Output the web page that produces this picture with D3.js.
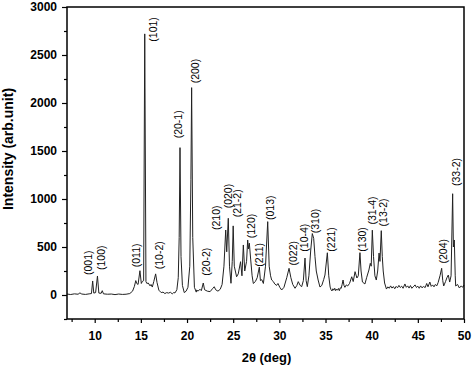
<!DOCTYPE html>
<html>
<head>
<meta charset="utf-8">
<script src="https://cdn.jsdelivr.net/npm/d3@7"></script>
<style>
  html, body { margin: 0; padding: 0; background: #fff; }
  svg { display: block; }
</style>
</head>
<body>
<svg id="chart" width="474" height="370"></svg>
<script>
// ---- data ----
const twoTheta = [
  7.0, 7.4, 7.8, 8.2, 8.4, 8.6, 9.0, 9.4, 9.65, 9.78, 9.9, 10.1, 10.3, 10.45, 10.7, 10.82, 10.95,
  11.4, 11.8, 12.2, 12.6, 13.0, 13.4, 13.8, 14.1, 14.3, 14.45, 14.55, 14.7, 14.9, 15.05, 15.15, 15.3,
  15.42, 15.55, 15.65, 15.8, 16.0, 16.1, 16.24, 16.4, 16.6, 16.75, 16.95, 17.2, 17.4, 17.6, 17.8,
  18.0, 18.2, 18.4, 18.55, 18.7, 18.9, 19.05, 19.15, 19.24, 19.35, 19.5, 19.7, 19.9, 20.1, 20.3,
  20.42, 20.5, 20.62, 20.8,
  21.0, 21.05, 21.2, 21.4, 21.55, 21.76, 21.9, 22.2, 22.5, 22.8, 22.95, 23.1, 23.35, 23.6, 23.8,
  24.0, 24.19, 24.3, 24.47, 24.6, 24.76, 24.9, 25.0, 25.12, 25.37, 25.55, 25.8, 25.95, 26.1, 26.25,
  26.45, 26.57, 26.65, 26.75, 26.9, 27.05, 27.18, 27.4, 27.6, 27.83, 27.95, 28.1, 28.27, 28.5, 28.74,
  28.9, 29.05, 29.17, 29.35, 29.5, 29.7, 29.85, 30.05, 30.25, 30.5, 30.8, 31.05, 31.25, 31.45, 31.7,
  31.9, 32.05, 32.25, 32.42, 32.6, 32.78, 32.9, 33.03, 33.2, 33.4, 33.57, 33.72, 33.86, 34.0, 34.2,
  34.4, 34.6, 34.8, 34.94, 35.2, 35.35, 35.5, 35.6, 35.7, 35.8, 35.9, 36.0, 36.1, 36.2, 36.3, 36.4,
  36.5, 36.6, 36.7, 36.8, 36.9, 37.0, 37.1, 37.25, 37.4,
  37.6, 37.84, 38.0, 38.2, 38.4, 38.55, 38.73, 38.85, 39.0, 39.27, 39.45, 39.7, 39.85, 39.95, 40.07,
  40.2, 40.35, 40.5, 40.65, 40.8, 40.9, 41.04, 41.15, 41.25, 41.4, 41.6, 41.75, 41.9, 42.05, 42.2,
  42.35, 42.5, 42.65, 42.8, 42.95, 43.1, 43.25, 43.4, 43.6, 43.75, 43.9, 44.05, 44.2, 44.35, 44.5,
  44.7, 44.85, 45.0, 45.15, 45.3, 45.45, 45.6, 45.8, 45.96, 46.1, 46.3, 46.45, 46.6, 46.75, 46.9,
  47.05, 47.2, 47.4, 47.58, 47.7, 47.8, 48.0, 48.15, 48.3, 48.45, 48.6, 48.77, 48.85, 48.95, 49.05,
  49.1, 49.3, 49.5, 49.7, 49.85, 50.0
];
const intensity = [
  10, 5, 12, 8, 22, 10, 6, 12, 15, 146, 20, 25, 198, 20, 18, 45, 12,
  8, 10, 4, 10, 6, 8, 15, 40, 90, 150, 120, 110, 253, 120, 140, 150,
  2720, 140, 120, 125, 95, 110, 83, 140, 220, 130, 50, 25, 30, 15, 25,
  20, 28, 12, 25, 22, 55, 180, 600, 1535, 400, 100, 25, 40, 80, 300,
  1200, 2160, 600, 80,
  30, 52, 40, 60, 45, 125, 55, 40, 35, 70, 86, 55, 40, 60, 110,
  300, 677, 450, 799, 300, 122, 350, 720, 300, 190, 220, 347, 200, 521, 250,
  350, 573, 480, 540, 365, 200, 120, 140, 180, 290, 150, 160, 120, 300, 764,
  300, 200, 156, 140, 115, 100, 120, 80, 52, 80, 180, 278, 180, 110, 70,
  100, 139, 100, 87, 150, 385, 150, 87, 200, 469, 640, 590, 399, 250, 156,
  83, 100, 160, 208, 440, 200, 83, 55, 42, 65, 50, 70, 45, 62, 50, 68,
  45, 75, 70, 110, 156, 100, 80, 105, 94,
  120, 190, 140, 243, 177, 200, 441, 250, 135, 115, 180, 260, 330, 300, 675,
  400, 200, 156, 250, 437, 350, 670, 400, 250, 125, 62, 85, 70, 95, 72,
  88, 65, 90, 75, 100, 78, 92, 70, 115, 80, 95, 72, 98, 70, 85,
  105, 78, 92, 70, 95, 75, 88, 78, 120, 85, 135, 90, 105, 85, 110,
  95, 130, 200, 278, 150, 94, 140, 180, 208, 135, 200, 1055, 500, 573, 200,
  94, 110, 73, 95, 80, 104
];

// Miller index labels: name, 2theta of label, intensity where label text starts
const labelNames = ["(001)", "(100)", "(011)", "(101)", "(10-2)", "(20-1)", "(200)", "(20-2)",
  "(210)", "(020)", "(21-2)", "(120)", "(211)", "(013)", "(022)", "(10-4)", "(310)", "(221)",
  "(130)", "(31-4)", "(13-2)", "(204)", "(33-2)"];
const labelTheta = [9.31, 10.76, 14.47, 16.35, 16.96, 19.10, 20.86, 22.13,
  23.14, 24.47, 25.49, 26.93, 27.87, 28.99, 31.46, 32.70, 33.86, 35.67,
  38.98, 40.09, 41.28, 47.76, 49.13];
const labelLevel = [208, 260, 289, 2639, 268, 1632, 2205, 201,
  677, 903, 809, 591, 295, 781, 307, 451, 643, 451,
  451, 734, 714, 328, 1135];

const xMajorTicks = [10, 15, 20, 25, 30, 35, 40, 45, 50];
const xMinorTicks = [7.5, 12.5, 17.5, 22.5, 27.5, 32.5, 37.5, 42.5, 47.5];
const yMajorTicks = [0, 500, 1000, 1500, 2000, 2500, 3000];
const yMinorTicks = [-250, 250, 750, 1250, 1750, 2250, 2750];

(function () {
  // ---- layout ----
  const svg = d3.select("#chart");
  const pLeft = 67, pRight = 464, pTop = 7, pBottom = 319;
  const x = d3.scaleLinear().domain([7, 50]).range([pLeft, pRight]);
  const y = d3.scaleLinear().domain([-250, 3000]).range([pBottom, pTop]);
  const fontFamily = "'Liberation Sans', Arial, sans-serif";

  const xAxis = d3.axisBottom(x).tickValues(xMajorTicks).tickSize(4).tickSizeOuter(0).tickPadding(8)
    .tickFormat(d3.format("d"));
  const xAxisMinor = d3.axisBottom(x).tickValues(xMinorTicks).tickSize(3).tickSizeOuter(0).tickFormat("");
  const yAxis = d3.axisLeft(y).tickValues(yMajorTicks).tickSize(5).tickSizeOuter(0).tickPadding(5)
    .tickFormat(d3.format("d"));
  const yAxisMinor = d3.axisLeft(y).tickValues(yMinorTicks).tickSize(3).tickSizeOuter(0).tickFormat("");

  function styleAxis(g) {
    g.select(".domain").remove();
    g.selectAll(".tick line").attr("stroke", "#000").attr("stroke-width", 1.2);
    g.selectAll(".tick text").attr("fill", "#000")
      .style("font-family", fontFamily).style("font-weight", "bold").style("font-size", "12px");
  }

  svg.append("g").attr("transform", `translate(0,${pBottom})`).call(xAxisMinor).call(styleAxis);
  svg.append("g").attr("transform", `translate(0,${pBottom})`).call(xAxis).call(styleAxis);
  svg.append("g").attr("transform", `translate(${pLeft},0)`).call(yAxisMinor).call(styleAxis);
  svg.append("g").attr("transform", `translate(${pLeft},0)`).call(yAxis).call(styleAxis);

  // data line
  const pts = twoTheta.map((t, i) => [t, intensity[i]]);
  const line = d3.line().x(d => x(d[0])).y(d => y(d[1]));
  svg.append("path")
    .datum(pts)
    .attr("d", line)
    .attr("fill", "none")
    .attr("stroke", "#222")
    .attr("stroke-width", 1)
    .attr("stroke-linejoin", "round");

  // frame
  svg.append("rect")
    .attr("x", pLeft).attr("y", pTop)
    .attr("width", pRight - pLeft).attr("height", pBottom - pTop)
    .attr("fill", "none").attr("stroke", "#000").attr("stroke-width", 1.5);

  // peak labels
  labelNames.forEach((name, i) => {
    const lx = x(labelTheta[i]), ly = y(labelLevel[i]);
    svg.append("text")
      .attr("transform", `translate(${lx},${ly}) rotate(-90)`)
      .attr("dy", "0.35em")
      .attr("text-anchor", "start")
      .style("font-family", fontFamily)
      .style("font-size", "10.5px")
      .attr("fill", "#000")
      .text(name);
  });

  // axis titles
  svg.append("text")
    .attr("x", 266.5).attr("y", 362)
    .attr("text-anchor", "middle")
    .style("font-family", fontFamily).style("font-weight", "bold").style("font-size", "13px")
    .attr("fill", "#000")
    .text("2θ (deg)");

  svg.append("text")
    .attr("transform", `translate(13,149) rotate(-90)`)
    .attr("text-anchor", "middle")
    .style("font-family", fontFamily).style("font-weight", "bold").style("font-size", "14px")
    .attr("fill", "#000")
    .text("Intensity (arb.unit)");
})();
</script>
</body>
</html>
